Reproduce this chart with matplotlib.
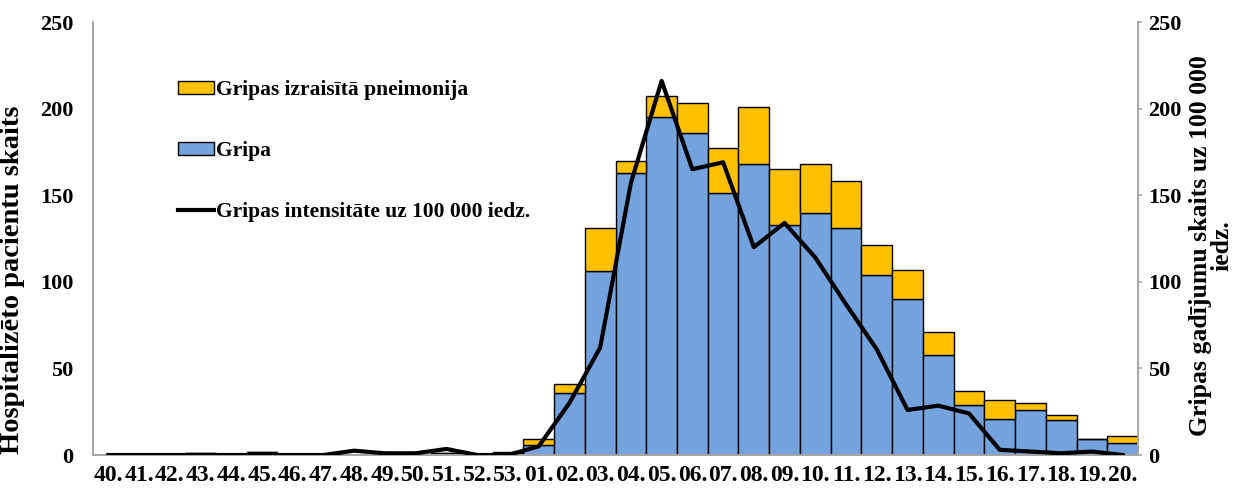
import numpy as np
import matplotlib.pyplot as plt

plt.rcParams['font.family'] = ['Liberation Serif', 'DejaVu Serif']
plt.rcParams['font.weight'] = 'bold'

# weeks of the season
weeks = ['40.', '41.', '42.', '43.', '44.', '45.', '46.', '47.', '48.', '49.', '50.', '51.',
         '52.', '53.', '01.', '02.', '03.', '04.', '05.', '06.', '07.', '08.', '09.', '10.',
         '11.', '12.', '13.', '14.', '15.', '16.', '17.', '18.', '19.', '20.']

# hospitalised patients - influenza
gripa = [0, 0, 0, 1, 0, 2, 0, 0, 0, 0, 0, 1, 0, 1, 6, 36, 106, 163, 195, 186, 151, 168,
         133, 140, 131, 104, 90, 58, 29, 21, 26, 20, 9, 7]
# hospitalised patients - influenza pneumonia
pneimonija = [0, 0, 0, 0, 0, 0, 0, 0, 0, 0, 0, 0, 0, 1, 3, 5, 25, 7, 12, 17, 26, 33,
              32, 28, 27, 17, 17, 13, 8, 11, 4, 3, 0, 4]
# influenza intensity per 100 000
intensitate = [0, 0, 0, 0, 0, 0, 0, 0, 2.5, 1, 1, 3.5, 0, 0, 5, 30, 62, 157, 216, 165, 169,
               120, 134, 114, 87, 61, 26, 28.5, 24, 3, 2, 1, 2, 0]

blue = '#74A3DE'
yellow = '#FFC000'
grey = '#A6A6A6'

fig = plt.figure(figsize=(12.33, 4.9), dpi=100)
ax = fig.add_axes([0.0754, 0.0714, 0.8476, 0.8837])
ax2 = ax.twinx()

x = np.arange(len(weeks))
b1 = ax.bar(x, gripa, width=1.0, color=blue, edgecolor='black', linewidth=1.0,
            label='Gripa', zorder=2)
b2 = ax.bar(x, pneimonija, width=1.0, bottom=gripa, color=yellow, edgecolor='black',
            linewidth=1.0, label='Gripas izraisītā pneimonija', zorder=2)
l1, = ax2.plot(x, intensitate, color='black', linewidth=3,
               label='Gripas intensitāte uz 100 000 iedz.', zorder=3)

ax.set_xlim(-0.5, len(weeks) - 0.5)
ax.set_ylim(0, 250)
ax2.set_ylim(0, 250)
ax.set_yticks(np.arange(0, 251, 50))
ax2.set_yticks(np.arange(0, 251, 50))
ax.set_xticks(x)
ax.set_xticklabels(weeks)

for a in (ax, ax2):
    a.spines['top'].set_visible(False)
    for s in ('left', 'right', 'bottom'):
        a.spines[s].set_color(grey)
        a.spines[s].set_linewidth(1.2)

ax.tick_params(axis='y', length=0, pad=14, labelsize=16)
ax.tick_params(axis='x', length=0, pad=7, labelsize=17)
ax2.tick_params(axis='y', length=3, width=1.2, color=grey, pad=4, labelsize=16)
for t in ax.get_xticklabels() + ax.get_yticklabels() + ax2.get_yticklabels():
    t.set_fontweight('bold')

ax.set_ylabel('Hospitalizēto pacientu skaits', fontsize=20.5, fontweight='bold')
ax.yaxis.set_label_coords(-0.065, 0.404)
ax2.set_ylabel('Gripas gadījumu skaits uz 100 000\niedz.', fontsize=18.5,
               fontweight='bold', rotation=90, linespacing=0.9)
ax2.yaxis.set_label_coords(1.049, 0.483)

ax.set_zorder(ax2.get_zorder() - 1)
ax.patch.set_visible(False)
ax2.patch.set_visible(False)

leg = ax2.legend([b2, b1, l1], [b2.get_label(), b1.get_label(), l1.get_label()],
                 loc='upper left', bbox_to_anchor=(0.081, 0.866), frameon=False,
                 prop={'size': 15.5, 'weight': 'bold'}, labelspacing=1.9,
                 handlelength=1.7, handleheight=0.6, handletextpad=0.1,
                 borderaxespad=0, borderpad=0)

fig.savefig('out.png', dpi=100)
